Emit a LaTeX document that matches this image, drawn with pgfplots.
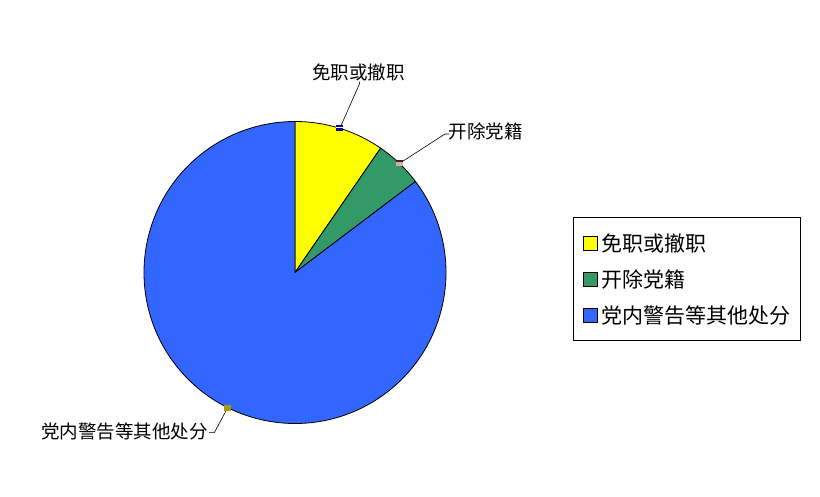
\documentclass[border=0pt]{standalone}
\usepackage{pgfplots}
\pgfplotsset{compat=1.18}
\usepackage{pgfplotstable}
\usepackage{fontspec}
\newfontfamily\cjk{Noto Sans CJK SC}

\definecolor{slA}{HTML}{FFFF00}
\definecolor{slB}{HTML}{339966}
\definecolor{slC}{HTML}{3366FF}

% share of each kind of punishment, in percent
\pgfplotstableread{
kind value
A 9.6
B 5.1
C 85.3
}\piedata

\begin{document}
\begin{tikzpicture}
\useasboundingbox (0,0) rectangle (820pt,497pt);
\pgfplotstablegetelem{0}{value}\of\piedata \let\vA\pgfplotsretval
\pgfplotstablegetelem{1}{value}\of\piedata \let\vB\pgfplotsretval
\pgfplotstablegetelem{2}{value}\of\piedata \let\vC\pgfplotsretval
\pgfmathsetmacro\aA{90}
\pgfmathsetmacro\aB{\aA-3.6*\vA}
\pgfmathsetmacro\aC{\aB-3.6*\vB}
\pgfmathsetmacro\aD{\aC-3.6*\vC}
\pgfmathsetmacro\mA{(\aA+\aB)/2}
\pgfmathsetmacro\mB{(\aB+\aC)/2}
\pgfmathsetmacro\mC{(\aC+\aD)/2}
\begin{axis}[
    at={(0,0)}, anchor=south west,
    scale only axis, width=820pt, height=497pt,
    xmin=0, xmax=820, ymin=0, ymax=497,
    hide axis, clip=false,
    legend style={
        at={(0.6988,0.5634)}, anchor=north west,
        draw=black, line width=0.8pt,
        inner xsep=10pt, inner ysep=16pt,
        font=\cjk\fontsize{21}{24}\selectfont,
        nodes={inner sep=0pt, anchor=west},
        row sep=16.7pt,
        /tikz/every odd column/.append style={column sep=3pt},
    },
    legend cell align=left,
]
\addlegendimage{legend image code/.code={\draw[fill=slA,draw=black,line width=0.6pt] (0pt,-7pt) rectangle (14pt,7pt);}}
\addlegendentry{免职或撤职}
\addlegendimage{legend image code/.code={\draw[fill=slB,draw=black,line width=0.6pt] (0pt,-7pt) rectangle (14pt,7pt);}}
\addlegendentry{开除党籍}
\addlegendimage{legend image code/.code={\draw[fill=slC,draw=black,line width=0.6pt] (0pt,-7pt) rectangle (14pt,7pt);}}
\addlegendentry{党内警告等其他处分}

\filldraw[fill=slA, draw=black, line width=0.8pt] (axis cs:295,224.5) -- ++(\aA:151pt) arc[start angle=\aA, end angle=\aB, radius=151pt] -- cycle;
\filldraw[fill=slB, draw=black, line width=0.8pt] (axis cs:295,224.5) -- ++(\aB:151pt) arc[start angle=\aB, end angle=\aC, radius=151pt] -- cycle;
\filldraw[fill=slC, draw=black, line width=0.8pt] (axis cs:295,224.5) -- ++(\aC:151pt) arc[start angle=\aC, end angle=\aD, radius=151pt] -- cycle;

% leader lines and labels
\draw[line width=0.6pt] (axis cs:295,224.5) ++(\mA:151pt) -- (axis cs:359.3,412.7) -- (axis cs:359.7,415.3);
\draw[line width=0.6pt] (axis cs:295,224.5) ++(\mB:151pt) -- (axis cs:445,363) -- (axis cs:449,363);
\draw[line width=0.6pt] (axis cs:295,224.5) ++(\mC:151pt) -- (axis cs:214.3,64.3) -- (axis cs:209,64.3);
\fill[blue!60!black] (axis cs:295,224.5) ++(\mA:151pt) +(-3.5pt,-3pt) rectangle +(3.5pt,3pt);
\fill[white] (axis cs:295,224.5) ++(\mA:151pt) +(-3.5pt,0.5pt) rectangle +(3.5pt,1.2pt);
\fill[black!80!pink] (axis cs:295,224.5) ++(\mB:151pt) +(-3.5pt,-3pt) rectangle +(3.5pt,3pt);
\fill[pink!70!gray] (axis cs:295,224.5) ++(\mB:151pt) +(-3.5pt,-3pt) rectangle +(3.5pt,1pt);
\fill[olive!80!yellow] (axis cs:295,224.5) ++(\mC:151pt) +(-3.5pt,-3pt) rectangle +(3.5pt,3pt);

\node[font=\cjk\fontsize{18.5}{20}\selectfont, inner sep=0pt, anchor=center] at (axis cs:358.5,424.5) {免职或撤职};
\node[font=\cjk\fontsize{18.5}{20}\selectfont, inner sep=0pt, anchor=west] at (axis cs:448.5,365.5) {开除党籍};
\node[font=\cjk\fontsize{18.5}{20}\selectfont, inner sep=0pt, anchor=east] at (axis cs:208,65.5) {党内警告等其他处分};
\end{axis}
\end{tikzpicture}
\end{document}
